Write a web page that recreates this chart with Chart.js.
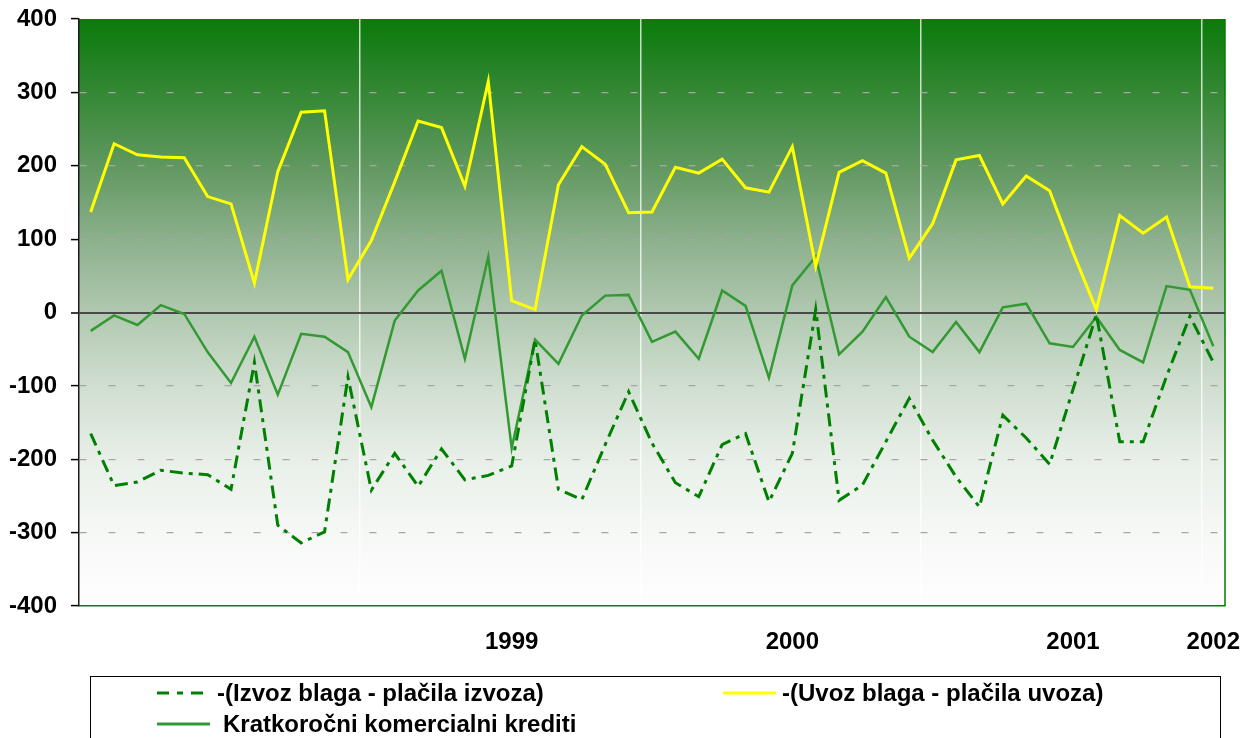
<!DOCTYPE html>
<html>
<head>
<meta charset="utf-8">
<script src="https://cdn.jsdelivr.net/npm/chart.js@4.4.1/dist/chart.umd.min.js"></script>
<style>
  body { margin: 0; background: #fff; overflow: hidden; font-family: "Liberation Sans", Arial, sans-serif; }
  #wrap { position: relative; width: 1252px; height: 738px; overflow: hidden; }
  #legendBox { position: absolute; left: 90px; top: 676px; width: 1131px; height: 90px; border: 1.5px solid #000; box-sizing: border-box; }
  .item { position: absolute; height: 28px; display: flex; align-items: center; font-weight: bold; font-size: 24px; color: #000; white-space: nowrap; }
</style>
</head>
<body>
<div id="wrap">
  <canvas id="myChart" width="1252" height="738"></canvas>
  <div id="legendBox"></div>
</div>
<script>
/* data, monthly 1998-01 .. 2002-01 */
const months = [];
for (let y = 1998; y <= 2002; y++) {
  for (let m = 1; m <= 12; m++) {
    if (y === 2002 && m > 1) break;
    months.push(y + '-' + (m < 10 ? '0' + m : m));
  }
}
const yearLabels = ['1999', '2000', '2001', '2002'];
const yearLabelMonths = ['1999-07', '2000-07', '2001-07', '2002-01'];

const izvoz = [-165, -236, -231, -215, -219, -221, -241, -68, -290, -314, -299, -88,
  -242, -192, -237, -186, -228, -222, -209, -37, -241, -255, -180, -108,
  -178, -232, -251, -180, -165, -258, -192, 4, -256, -235, -176, -117,
  -174, -224, -265, -140, -171, -207, -105, -3, -176, -176, -87, -5, -68];
const uvoz = [137, 230, 215, 212, 211, 158, 148, 40, 192, 273, 275, 45,
  98, 178, 261, 252, 172, 315, 16, 4, 174, 226, 202, 136,
  137, 198, 190, 209, 170, 164, 226, 63, 191, 207, 190, 74,
  121, 208, 214, 148, 186, 166, 82, 4, 132, 108, 130, 35, 33];
const krediti = [-25, -4, -17, 10, -2, -54, -96, -33, -112, -29, -33, -54,
  -129, -11, 30, 57, -63, 76, -185, -37, -70, -4, 23, 24,
  -40, -26, -63, 30, 9, -89, 37, 76, -57, -26, 21, -33,
  -54, -13, -54, 7, 12, -42, -47, -6, -51, -68, 36, 31, -46];

const fontFamily = '"Liberation Sans", Arial, sans-serif';

// gradient background + right frame line
const plotBackground = {
  id: 'plotBackground',
  beforeDraw(chart) {
    const { ctx, chartArea: a } = chart;
    const g = ctx.createLinearGradient(0, a.top, 0, a.bottom);
    g.addColorStop(0, 'rgb(10,122,10)');
    g.addColorStop(0.125, 'rgb(52,136,52)');
    g.addColorStop(0.25, 'rgb(96,152,96)');
    g.addColorStop(0.375, 'rgb(140,176,140)');
    g.addColorStop(0.5, 'rgb(176,200,176)');
    g.addColorStop(0.625, 'rgb(208,222,208)');
    g.addColorStop(0.75, 'rgb(232,239,232)');
    g.addColorStop(0.875, 'rgb(246,248,246)');
    g.addColorStop(1, 'rgb(254,254,254)');
    ctx.save();
    ctx.fillStyle = g;
    ctx.fillRect(a.left, a.top, a.right - a.left, a.bottom - a.top);
    ctx.restore();
  },
  afterDatasetsDraw(chart) {
    const { ctx, chartArea: a } = chart;
    ctx.save();
    ctx.strokeStyle = '#008000';
    ctx.lineWidth = 1.5;
    ctx.beginPath();
    ctx.moveTo(a.right, a.top);
    ctx.lineTo(a.right, a.bottom);
    ctx.stroke();
    ctx.restore();
  }
};

const ctx = document.getElementById('myChart').getContext('2d');
const chart = new Chart(ctx, {
  type: 'line',
  data: {
    labels: months,
    datasets: [{
      label: '-(Izvoz blaga - plačila izvoza)',
      data: izvoz,
      borderColor: '#008000',
      borderWidth: 3,
      borderDash: [13, 6, 4, 6]
    }, {
      label: '-(Uvoz blaga - plačila uvoza)',
      data: uvoz,
      borderColor: '#ffff00',
      borderWidth: 3
    }, {
      label: 'Kratkoročni komercialni krediti',
      data: krediti,
      borderColor: '#339933',
      borderWidth: 2.5
    }]
  },
  options: {
    responsive: false,
    animation: false,
    layout: { padding: { left: 0, top: 19, right: 27, bottom: 62 } },
    elements: { point: { radius: 0 }, line: { tension: 0 } },
    plugins: { legend: { display: false }, tooltip: { enabled: false } },
    scales: {
      x: {
        offset: true,
        grid: {
          offset: true,
          drawTicks: false,
          lineWidth: 1.5,
          color: c => (c.tick && c.index > 0 && months[c.index].endsWith('-01')) ? 'rgba(255,255,255,0.75)' : 'rgba(0,0,0,0)'
        },
        border: { color: '#008000', width: 1.5 },
        ticks: {
          autoSkip: false, maxRotation: 0, minRotation: 0, padding: 22,
          color: '#000', font: { family: fontFamily, size: 24, weight: 'bold' },
          callback: (v, i) => {
            const k = yearLabelMonths.indexOf(months[i]);
            return k < 0 ? '' : yearLabels[k];
          }
        },
        afterFit: s => { s.height = 70; s.paddingLeft = 0; s.paddingRight = 0; }
      },
      y: {
        min: -400, max: 400,
        ticks: { stepSize: 100, padding: 14, color: '#000', font: { family: fontFamily, size: 24, weight: 'bold' } },
        grid: {
          tickLength: 8, tickColor: '#000', tickWidth: 1.5,
          color: c => {
            if (!c.tick) return 'rgba(0,0,0,0)';
            if (c.tick.value === 0) return '#4a4a4a';
            if (Math.abs(c.tick.value) === 400) return 'rgba(0,0,0,0)';
            return '#a6a6a6';
          },
          lineWidth: c => (c.tick && c.tick.value === 0) ? 2 : 1.2
        },
        border: { color: '#1a1a1a', width: 1.5, dash: c => (c.tick && c.tick.value !== 0) ? [7, 22] : [] },
        afterFit: s => { s.width = 79; s.paddingTop = 0; s.paddingBottom = 0; }
      }
    }
  },
  plugins: [plotBackground]
});

// legend, built from the datasets
const legendPos = [
  { left: 157, top: 679, gap: 7, dash: '12 8 6 8' },
  { left: 723, top: 679, gap: 6, dash: '' },
  { left: 157, top: 710, gap: 13, dash: '' }
];
chart.data.datasets.forEach(function(ds, i) {
  const p = legendPos[i];
  const item = document.createElement('div');
  item.className = 'item';
  item.style.left = p.left + 'px';
  item.style.top = p.top + 'px';
  item.innerHTML = '<svg width="53" height="6" style="margin-right:' + p.gap + 'px">' +
    '<line x1="0" y1="3" x2="53" y2="3" stroke="' + ds.borderColor + '" stroke-width="3"' +
    (p.dash ? ' stroke-dasharray="' + p.dash + '"' : '') + '/></svg>';
  const span = document.createElement('span');
  span.textContent = ds.label;
  item.appendChild(span);
  document.getElementById('wrap').appendChild(item);
});
</script>
</body>
</html>
